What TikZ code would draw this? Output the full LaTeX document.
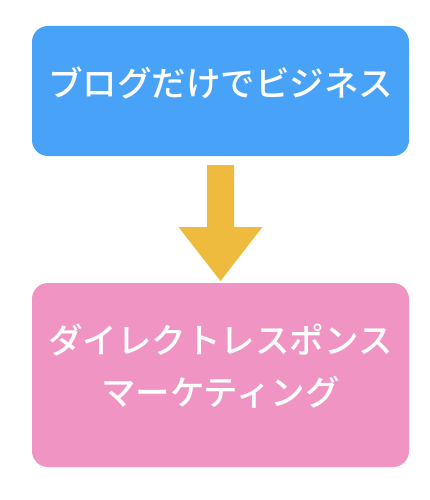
\documentclass[tikz,border=0pt]{standalone}
\usepackage{fontspec}
\newfontfamily\jp{Noto Sans CJK JP Medium}
\usetikzlibrary{calc}
\definecolor{boxblue}{HTML}{48A2F8}
\definecolor{boxpink}{HTML}{F095C3}
\definecolor{arrowgold}{HTML}{EFBB3F}
\tikzset{
  card/.style={rounded corners=16pt, inner sep=0pt, outer sep=0pt, minimum width=377pt},
  cardtext/.style={text=white, font=\jp\fontsize{34.5pt}{52pt}\selectfont, align=center, inner sep=0pt},
}
\begin{document}
\begin{tikzpicture}[x=1pt,y=-1pt]
\useasboundingbox (0,0) rectangle (429,500);
\node[card, fill=boxblue, minimum height=130pt] (top) at (220.5,91) {};
\node[card, fill=boxpink, minimum height=184pt] (bottom) at (220.5,375) {};
\node[cardtext] (toptext) at (220.5,83) {ブログだけでビジネス};
\node[cardtext] (bottomtext) at (220.5,366) {ダイレクトレスポンス\\マーケティング};
\fill[arrowgold]
  ($(top.south)+(-13.5,9)$) -- ($(top.south)+(13.5,9)$) --
  ($(top.south)+(13.5,71)$) -- ($(top.south)+(42,71)$) --
  ($(bottom.north)+(0,-2)$) --
  ($(top.south)+(-42,71)$) -- ($(top.south)+(-13.5,71)$) -- cycle;
\end{tikzpicture}
\end{document}
